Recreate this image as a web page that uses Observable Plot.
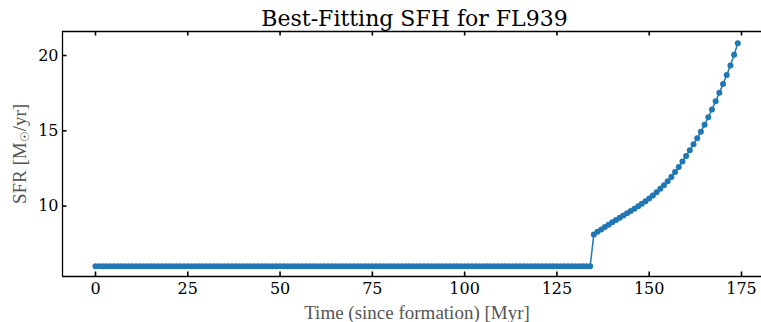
<!DOCTYPE html>
<html>
<head>
<meta charset="utf-8">
<script src="https://cdn.jsdelivr.net/npm/d3@7"></script>
<script src="https://cdn.jsdelivr.net/npm/@observablehq/plot@0.6"></script>
<style>
  html, body { margin: 0; padding: 0; background: white; }
  #chart svg { display: block; }
</style>
</head>
<body>
<div id="chart"></div>
<script>
// ---- data ----
const titleText = "Best-Fitting SFH for FL939";
const xLabel = "Time (since formation) [Myr]";
const yLabelMain = "SFR [M";
const yLabelSub = "☉";
const yLabelEnd = "/yr]";

const timeMyr = [
  0,1,2,3,4,5,6,7,8,9,10,11,12,13,14,15,16,17,18,19,
  20,21,22,23,24,25,26,27,28,29,30,31,32,33,34,35,36,37,38,39,
  40,41,42,43,44,45,46,47,48,49,50,51,52,53,54,55,56,57,58,59,
  60,61,62,63,64,65,66,67,68,69,70,71,72,73,74,75,76,77,78,79,
  80,81,82,83,84,85,86,87,88,89,90,91,92,93,94,95,96,97,98,99,
  100,101,102,103,104,105,106,107,108,109,110,111,112,113,114,115,116,117,118,119,
  120,121,122,123,124,125,126,127,128,129,130,131,132,133,134,
  135,136,137,138,139,140,141,142,143,144,145,146,147,148,149,150,151,152,153,154,
  155,156,157,158,159,160,161,162,163,164,165,166,167,168,169,170,171,172,173,174
];

const sfrValues = [
  6,6,6,6,6,6,6,6,6,6,6,6,6,6,6,6,6,6,6,6,
  6,6,6,6,6,6,6,6,6,6,6,6,6,6,6,6,6,6,6,6,
  6,6,6,6,6,6,6,6,6,6,6,6,6,6,6,6,6,6,6,6,
  6,6,6,6,6,6,6,6,6,6,6,6,6,6,6,6,6,6,6,6,
  6,6,6,6,6,6,6,6,6,6,6,6,6,6,6,6,6,6,6,6,
  6,6,6,6,6,6,6,6,6,6,6,6,6,6,6,6,6,6,6,6,
  6,6,6,6,6,6,6,6,6,6,6,6,6,6,6,
  8.12,8.29,8.45,8.61,8.76,8.92,9.07,9.22,9.37,9.52,9.67,9.83,9.99,10.16,10.33,10.51,10.71,10.92,11.15,11.39,
  11.65,11.94,12.26,12.60,12.96,13.33,13.71,14.10,14.51,14.94,15.40,15.90,16.42,16.96,17.52,18.10,18.70,19.33,20.05,20.82
];

const xTicks = [0, 25, 50, 75, 100, 125, 150, 175];
const yTicks = [10, 15, 20];
const xDomain = [-8.94, 180.42];
const yDomain = [5.325, 21.594];

// ---- layout constants ----
const W = 761, H = 322;
const mLeft = 62, mRight = 0, mTop = 31, mBottom = 46;
const tickLenPx = 4.5;
const blue = "#1f77b4";
const labelGray = "#555";

const data = timeMyr.map((t, i) => ({t, sfr: sfrValues[i]}));

const pxPerX = (W - mLeft - mRight) / (xDomain[1] - xDomain[0]);
const pxPerY = (H - mTop - mBottom) / (yDomain[1] - yDomain[0]);
const tx = tickLenPx / pxPerX;
const ty = tickLenPx / pxPerY;

const chart = Plot.plot({
  width: W,
  height: H,
  marginLeft: mLeft,
  marginRight: mRight,
  marginTop: mTop,
  marginBottom: mBottom,
  x: {domain: xDomain},
  y: {domain: yDomain},
  style: {fontFamily: "DejaVu Serif", fontSize: "16px", background: "white", color: "black", overflow: "visible"},
  marks: [
    Plot.axisX({ticks: xTicks, tickSize: 0, tickPadding: 6, label: null, fontSize: 16, fill: "black", fontFamily: "DejaVu Serif"}),
    Plot.axisY({ticks: yTicks, tickSize: 0, tickPadding: 4, label: null, fontSize: 16, fill: "black", fontFamily: "DejaVu Serif"}),
    Plot.ruleY([yDomain[0], yDomain[1]], {y: d => d, stroke: "black", strokeWidth: 1.3}),
    Plot.ruleX([xDomain[0]], {x: d => d, stroke: "black", strokeWidth: 1.3}),
    Plot.ruleX(xTicks, {x: d => d, y1: yDomain[0], y2: yDomain[0] + ty, stroke: "black", strokeWidth: 1.6}),
    Plot.ruleX(xTicks, {x: d => d, y1: yDomain[1], y2: yDomain[1] - ty, stroke: "black", strokeWidth: 1.6}),
    Plot.ruleY(yTicks, {y: d => d, x1: xDomain[0], x2: xDomain[0] + tx, stroke: "black", strokeWidth: 1.6}),
    Plot.line(data, {x: "t", y: "sfr", stroke: blue, strokeWidth: 1.5}),
    Plot.dot(data, {x: "t", y: "sfr", r: 3, fill: blue, stroke: "none"}),
    Plot.text([titleText], {text: d => d, frameAnchor: "top", lineAnchor: "bottom", dy: -6, dx: 2.5, fontSize: 22, fontFamily: "DejaVu Serif", fill: "black"}),
    Plot.text([xLabel], {text: d => d, frameAnchor: "bottom", lineAnchor: "bottom", dy: 42, dx: 5, fontSize: 19, fontFamily: "Liberation Serif", fill: labelGray}),
    Plot.text([yLabelMain + yLabelSub + yLabelEnd], {text: d => d, frameAnchor: "left", rotate: -90, dx: -43, fontSize: 19, fontFamily: "Liberation Serif", fill: labelGray})
  ]
});

document.getElementById("chart").appendChild(chart);

// render the sun symbol as a small subscript inside the y label
const fullY = yLabelMain + yLabelSub + yLabelEnd;
d3.select(chart).selectAll("text").each(function() {
  const el = d3.select(this);
  if (el.text() === fullY) {
    el.text(null)
      .attr("text-anchor", "middle")
      .style("font-size", "19px")
      .style("font-family", "'Liberation Serif', serif");
    el.append("tspan").style("font-size", "19px").text(yLabelMain);
    el.append("tspan").style("font-size", "12px").attr("dy", 3).text(yLabelSub);
    el.append("tspan").style("font-size", "19px").attr("dy", -3).text(yLabelEnd);
  }
});
</script>
</body>
</html>
